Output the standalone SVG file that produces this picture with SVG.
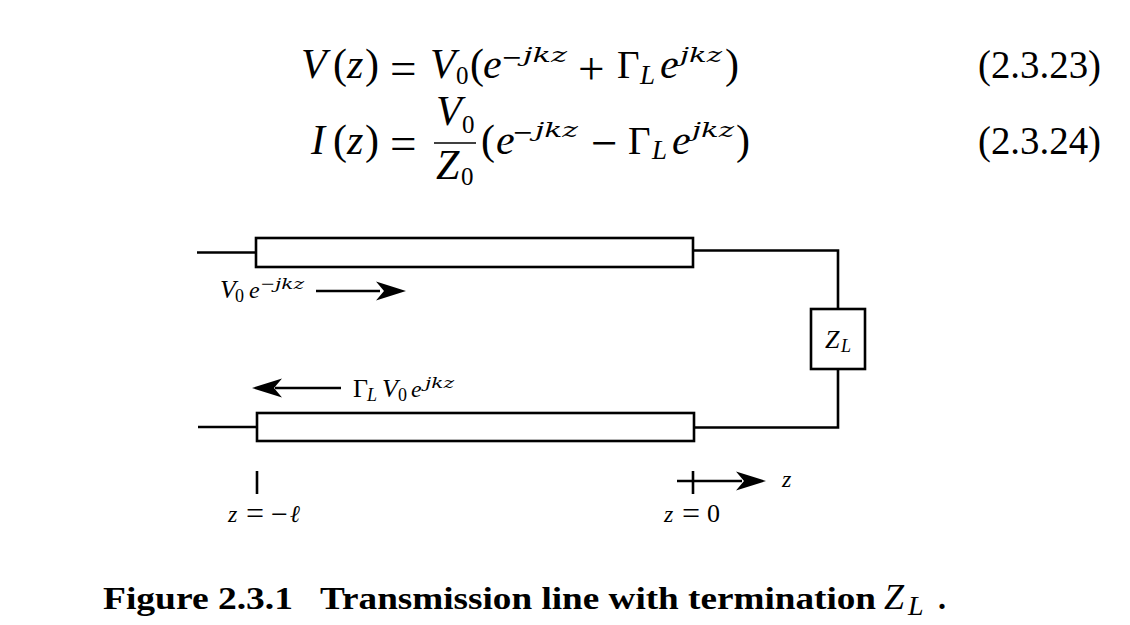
<svg xmlns="http://www.w3.org/2000/svg" width="1130" height="625" viewBox="0 0 1130 625">
<style>
text{font-family:"Liberation Serif","Times New Roman",serif;fill:#000}
.i{font-style:italic}
.e{font-size:42px}
.q{font-size:47px}
.m{font-size:34px}
.s{font-size:27px}
.x{font-family:"DejaVu Serif",serif;font-style:italic;font-size:20px}
.y{font-family:"DejaVu Serif",serif;font-style:italic;font-size:14px}
.d{font-size:26px}
.z{font-size:24px}
.ds{font-size:18px}
.w{fill:#fff;stroke:#000;stroke-width:2.6}
.l{fill:none;stroke:#000;stroke-width:2.6}
.c{font-weight:bold;font-size:32px}
</style>
<defs><path id="ah" d="M0 0L-30 -9.500L-22 0L-30 9.500Z" fill="#000"/></defs>
<rect width="1130" height="625" fill="#fff"/>
<g id="equation-1">
<text class="e i" x="301" y="78">V</text><text class="e" x="333" y="78">(</text><text class="e i" x="347" y="78">z</text><text class="e" x="365" y="78">)</text><text class="q" x="390" y="84">=</text>
<text class="e i" x="430" y="78">V</text><text class="s" x="456" y="84" style="font-size:25px">0</text><text class="e" x="470" y="78">(</text><text class="e i" x="483" y="78">e</text>
<text class="m" x="502" y="69">−</text><text class="x" x="523" y="62" textLength="44" lengthAdjust="spacingAndGlyphs">jkz</text>
<text class="q" x="578" y="84">+</text><text class="e" x="617" y="78" style="font-size:39px">Γ</text><text class="s i" x="640" y="84">L</text><text class="e i" x="660" y="78">e</text>
<text class="x" x="680" y="62" textLength="42" lengthAdjust="spacingAndGlyphs">jkz</text><text class="e" x="725" y="78">)</text>
<text class="e" x="978" y="78" style="font-size:40px" textLength="123" lengthAdjust="spacingAndGlyphs">(2.3.23)</text>
</g>
<g id="equation-2">
<text class="e i" x="311" y="154">I</text><text class="e" x="333" y="154">(</text><text class="e i" x="347" y="154">z</text><text class="e" x="365" y="154">)</text><text class="q" x="390" y="158.500">=</text>
<text class="e i" x="436" y="124.500">V</text><text class="s" x="462" y="133" style="font-size:25px">0</text>
<path d="M434 143H476" fill="none" stroke="#000" stroke-width="1.600"/>
<text class="e i" x="436" y="179">Z</text><text class="s" x="461" y="185" style="font-size:25px">0</text>
<text class="e" x="481" y="154">(</text><text class="e i" x="496" y="154">e</text>
<text class="m" x="513" y="144">−</text><text class="x" x="535" y="137" textLength="43" lengthAdjust="spacingAndGlyphs">jkz</text>
<text class="q" x="591" y="158.500">−</text><text class="e" x="628" y="154" style="font-size:39px">Γ</text><text class="s i" x="652" y="159">L</text><text class="e i" x="672" y="154">e</text>
<text class="x" x="692" y="137" textLength="42" lengthAdjust="spacingAndGlyphs">jkz</text><text class="e" x="736" y="154">)</text>
<text class="e" x="978" y="154" style="font-size:40px" textLength="123" lengthAdjust="spacingAndGlyphs">(2.3.24)</text>
</g>
<g id="connectors">
<path class="l" d="M197 252.500H256"/>
<path class="l" d="M198 427H257"/>
<path class="l" d="M693 250.500H838V309"/>
<path class="l" d="M694 427.500H838V369"/>
<path class="l" d="M316 291H380"/><use href="#ah" x="406" y="291"/>
<path class="l" d="M341 388H275"/><use href="#ah" transform="translate(252 388) rotate(180)"/>
<path class="l" d="M257 471V494"/>
<path class="l" d="M693 471V494"/>
<path class="l" d="M677 481H742"/><use href="#ah" x="766" y="481"/>
</g>
<g id="line-top"><rect class="w" x="256" y="238" width="437" height="29"/></g>
<g id="line-bottom"><rect class="w" x="257" y="413" width="437" height="28"/></g>
<g id="load"><rect class="w" x="811" y="309" width="54" height="60"/>
<text class="d i" x="825" y="348">Z</text><text class="ds i" x="841" y="352">L</text></g>
<g id="label-forward"><text class="d i" x="220" y="298">V</text><text class="ds" x="235" y="302">0</text><text class="z i" x="249" y="298">e</text><text class="z" x="261" y="292">−</text><text class="y" x="275" y="289" textLength="29" lengthAdjust="spacingAndGlyphs">jkz</text></g>
<g id="label-reflected"><text class="d" x="353" y="397">Γ</text><text class="ds i" x="367" y="401">L</text><text class="d i" x="382" y="397">V</text><text class="ds" x="398" y="401">0</text><text class="z i" x="411" y="397">e</text><text class="y" x="425" y="388" textLength="29" lengthAdjust="spacingAndGlyphs">jkz</text></g>
<g id="label-z"><text class="z i" x="782" y="487">z</text></g>
<g id="label-z-l"><text class="z i" x="228" y="522">z</text><text x="246" y="523.500" font-size="32">=</text><text x="271" y="523.500" font-size="30">−</text><text class="z i" x="290" y="522">ℓ</text></g>
<g id="label-z-0"><text class="z i" x="664" y="522">z</text><text x="682" y="523.500" font-size="32">=</text><text class="d" x="707" y="522">0</text></g>
<g id="caption"><text class="c" x="103" y="609" textLength="190" lengthAdjust="spacingAndGlyphs">Figure 2.3.1</text><text class="c" x="320" y="609" textLength="556" lengthAdjust="spacingAndGlyphs">Transmission line with termination</text><text class="i" x="884" y="609" font-size="36">Z</text><text class="i" x="908" y="615" font-size="28">L</text><text class="c" x="938" y="609">.</text></g>
</svg>
